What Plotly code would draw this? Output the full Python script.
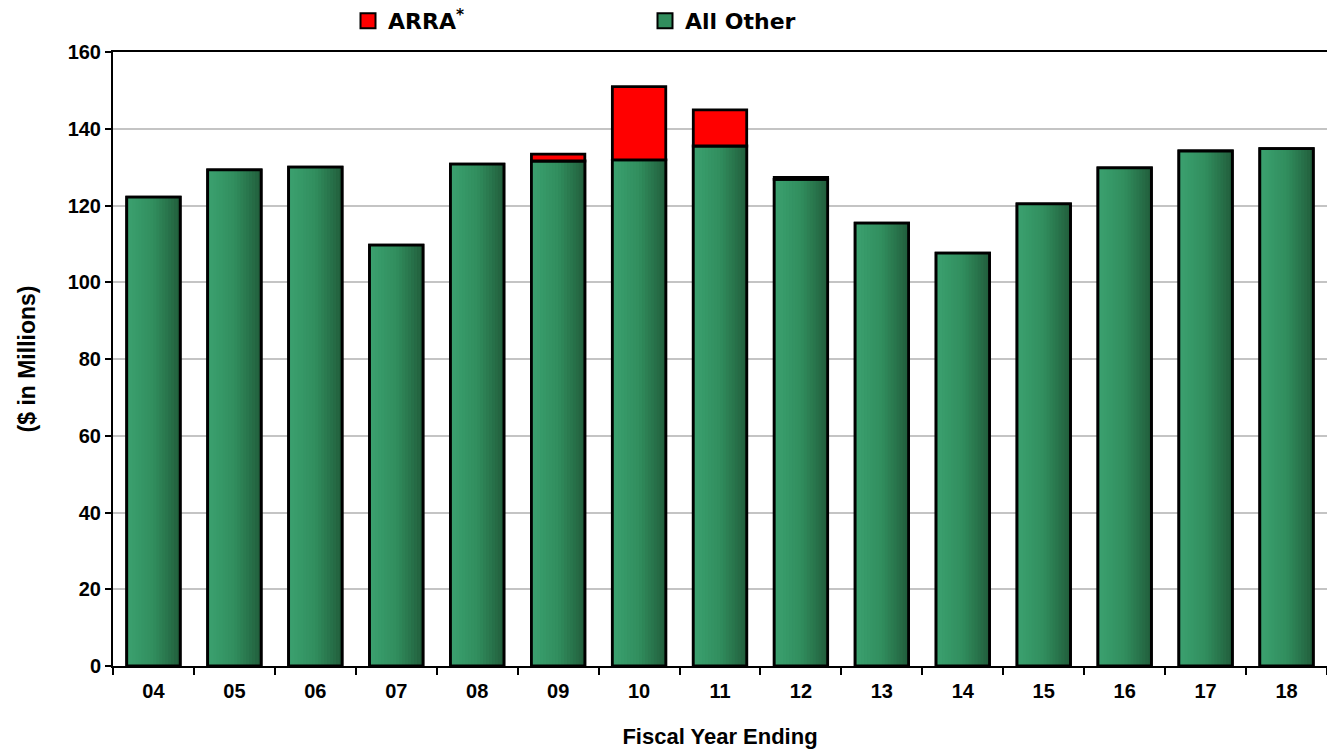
import plotly.graph_objects as go
from plotly.colors import sample_colorscale

# Fiscal years (two-digit) and funding in $ millions
years = ["04", "05", "06", "07", "08", "09", "10", "11", "12", "13", "14", "15", "16", "17", "18"]
all_other = [122.2, 129.3, 130.0, 109.7, 130.8, 131.6, 131.9, 135.5, 126.8, 115.4, 107.6, 120.4, 129.8, 134.2, 134.8]
arra = [0, 0, 0, 0, 0, 1.8, 19.1, 9.4, 0.5, 0, 0, 0, 0, 0, 0]

BAR_W = 0.66
N_STRIPS = 18
GREEN_SCALE = [[0.0, "#3ba06f"], [0.5, "#318e5e"], [1.0, "#22603d"]]
OUTLINE = dict(color="black", width=2.8)
AXIS_FONT = dict(family="Liberation Sans, Arial, sans-serif", size=20, color="black", weight="bold")
TITLE_FONT = dict(family="Liberation Sans, Arial, sans-serif", size=22, color="black", weight="bold")

fig = go.Figure()

# Base green bars
fig.add_trace(go.Bar(
    x=years, y=all_other, name="All Other", width=BAR_W, offset=-BAR_W / 2,
    marker=dict(color="#318d5d", line=OUTLINE), showlegend=False, hoverinfo="skip",
))

# Horizontal shading: thin vertical strips from light to dark green
step = BAR_W / N_STRIPS
strip_colors = sample_colorscale(GREEN_SCALE, [k / (N_STRIPS - 1) for k in range(N_STRIPS)])
for k, col in enumerate(strip_colors):
    w = step * 1.6 if k < N_STRIPS - 1 else step
    fig.add_trace(go.Bar(
        x=years, y=all_other, width=w, offset=-BAR_W / 2 + k * step,
        marker=dict(color=col, line=dict(width=0)), showlegend=False, hoverinfo="skip",
    ))

# Outline on top of the shaded bars
fig.add_trace(go.Bar(
    x=years, y=all_other, width=BAR_W, offset=-BAR_W / 2,
    marker=dict(color="rgba(0,0,0,0)", line=OUTLINE), showlegend=False,
    name="All Other", hovertemplate="FY%{x}: %{y}<extra>All Other</extra>",
))

# ARRA stacked on top of All Other
fig.add_trace(go.Bar(
    x=years, y=[v if v else None for v in arra], base=all_other,
    width=BAR_W, offset=-BAR_W / 2, name="ARRA<sup>*</sup>",
    marker=dict(color="#ff0000", line=OUTLINE), showlegend=False,
    hovertemplate="FY%{x}: %{y}<extra>ARRA</extra>",
))

# Legend swatches (larger squares than the default bar swatch)
for label, col, rank in [("ARRA<sup>*</sup>", "#ff0000", 1), ("All Other", "#318d5d", 2)]:
    fig.add_trace(go.Scatter(
        x=[None], y=[None], mode="markers", name=label, legendrank=rank,
        marker=dict(symbol="square", size=15, color=col, line=dict(color="black", width=2)),
        hoverinfo="skip",
    ))

fig.update_layout(
    width=1327, height=753,
    barmode="overlay",
    plot_bgcolor="white", paper_bgcolor="white",
    margin=dict(l=113, r=0, t=52, b=87, autoexpand=False),
    showlegend=True,
    legend=dict(
        orientation="h", xref="container", yref="container",
        x=348 / 1327, y=1.0, xanchor="left", yanchor="top",
        font=dict(family="DejaVu Sans, Verdana, sans-serif", size=22, color="black", weight="bold"),
        entrywidth=252, itemwidth=30, bgcolor="rgba(0,0,0,0)",
    ),
)

fig.update_xaxes(
    type="category", range=[-0.5, len(years) - 0.5],
    tickson="boundaries", ticks="outside", ticklen=7, tickwidth=1.5, tickcolor="black",
    showline=True, linecolor="black", linewidth=2, mirror=True,
    showgrid=False, tickfont=AXIS_FONT, ticklabelstandoff=6,
    title=dict(text="Fiscal Year Ending", font=TITLE_FONT, standoff=28),
)

fig.update_yaxes(
    range=[0, 160], dtick=20, tick0=0,
    ticks="outside", ticklen=6, tickwidth=1.5, tickcolor="black",
    showline=True, linecolor="black", linewidth=2,
    showgrid=True, gridcolor="#c4c4c4", gridwidth=2, zeroline=False,
    tickfont=AXIS_FONT, automargin=True,
    title=dict(text="($ in Millions)", font=dict(TITLE_FONT, size=23), standoff=26),
)

fig.write_html("out.html")
